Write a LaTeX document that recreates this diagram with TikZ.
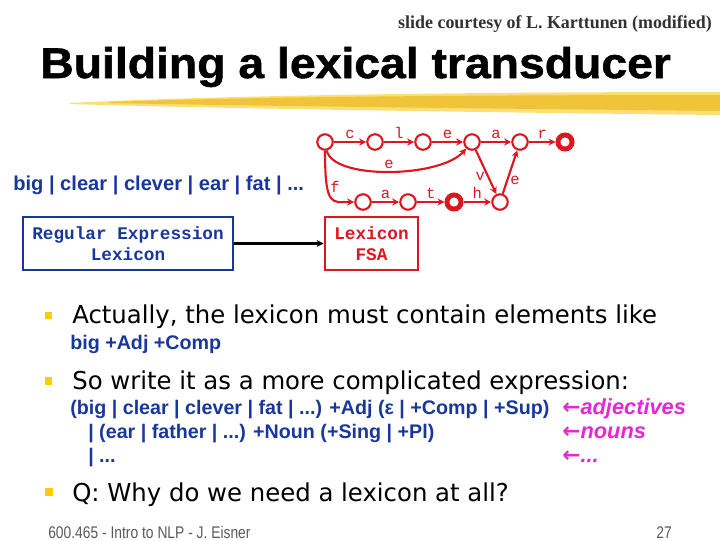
\documentclass[tikz,border=0pt]{standalone}
\usepackage{fontspec}
\setmainfont{Liberation Sans}
\newfontfamily\monofont{Liberation Mono}
\newfontfamily\creditfont[FakeStretch=0.98]{Liberation Serif}
\newfontfamily\titlefont[FakeStretch=1.08,FakeBold=1.2]{Liberation Sans}
\newfontfamily\bulletfont[FakeStretch=0.99]{DejaVu Sans}
\newfontfamily\footfont[FakeStretch=0.82]{Liberation Sans}
\newfontfamily\arrowfont{DejaVu Sans}
\usetikzlibrary{arrows.meta}

\definecolor{fsared}{RGB}{222,22,32}
\definecolor{lexblue}{RGB}{25,55,155}
\definecolor{notepink}{RGB}{230,40,210}
\definecolor{bulletgold}{RGB}{255,204,0}
\definecolor{brushlight}{RGB}{250,222,120}
\definecolor{brushgold}{RGB}{238,190,40}
\definecolor{creditgray}{RGB}{50,50,50}
\definecolor{footgray}{RGB}{90,90,90}

\tikzset{
  fsastate/.style={circle, draw=fsared, line width=1.5pt, minimum size=11pt,
    inner sep=0pt, fill=white},
  fsafinal/.style={fsastate, line width=3.5pt, minimum size=10pt},
  fsaedge/.style={->, draw=fsared, line width=1.5pt},
  fsalabel/.style={font=\monofont\fontsize{11}{11}\selectfont, text=fsared,
    inner sep=1.5pt},
  boxtext/.style={draw, line width=2pt, align=center, inner sep=0pt,
    font=\monofont\bfseries\fontsize{12.6}{15}\selectfont},
  bullettext/.style={anchor=base west, inner sep=0pt,
    font=\bulletfont\fontsize{17.5}{20}\selectfont},
  codetext/.style={anchor=base west, inner sep=0pt, text=lexblue,
    font=\bfseries\fontsize{14}{16}\selectfont},
  notetext/.style={anchor=base west, inner sep=0pt, text=notepink,
    font=\bfseries\itshape\fontsize{15.5}{17}\selectfont},
  bulletmark/.style={fill=bulletgold, minimum size=5pt, inner sep=0pt}
}
\newcommand{\leftnote}{{\arrowfont\upshape\bfseries ←}}

\begin{document}
\begin{tikzpicture}[x=0.025cm, y=-0.025cm, >={Stealth[length=5pt,width=5pt]}]
  \useasboundingbox (0,0) rectangle (720,540);

  % Header and brush stroke
  \node[anchor=base east, inner sep=0pt, text=creditgray,
    font=\creditfont\bfseries\fontsize{13}{15}\selectfont]
    (credit) at (712,28) {slide courtesy of L. Karttunen (modified)};
  \fill[brushlight] (70,103) .. controls (200,96) and (450,92) .. (720,92)
    -- (720,115) .. controls (450,112) and (200,108) .. (70,104) -- cycle;
  \fill[brushgold, opacity=0.8] (110,102) .. controls (250,97) and (450,95) .. (720,95)
    -- (720,111) .. controls (450,108) and (250,106) .. (110,103) -- cycle;
  \node[anchor=base west, inner sep=0pt, font=\titlefont\bfseries\fontsize{30.5}{34}\selectfont]
    (title) at (40,78) {Building a lexical transducer};

  % Expression and the two boxes
  \node[anchor=base west, inner sep=0pt, text=lexblue,
    font=\bfseries\fontsize{14.3}{16}\selectfont]
    (words) at (13,190) {big | clear | clever | ear | fat | ...};
  \node[boxtext, draw=lexblue, text=lexblue, minimum width=5.25cm, minimum height=1.325cm]
    (regex) at (128,243.5) {Regular Expression\\Lexicon};
  \node[boxtext, draw=fsared, text=fsared, minimum width=2.325cm, minimum height=1.325cm]
    (fsabox) at (371.5,243.5) {Lexicon\\FSA};
  \draw[->, line width=1.5pt] (regex) -- (fsabox);

  % FSA states
  \node[fsastate] (q0) at (325,142) {};
  \node[fsastate] (q1) at (375,142) {};
  \node[fsastate] (q2) at (423,142) {};
  \node[fsastate] (q3) at (472,142) {};
  \node[fsastate] (q4) at (520,142) {};
  \node[fsafinal] (q5) at (565,142) {};
  \node[fsastate] (q6) at (363,202) {};
  \node[fsastate] (q7) at (408,202) {};
  \node[fsafinal] (q8) at (454,202) {};
  \node[fsastate] (q9) at (500,202) {};

  % FSA arcs
  \draw[fsaedge] (q0) -- (q1) node[midway, above, fsalabel] {c};
  \draw[fsaedge] (q1) -- (q2) node[midway, above, fsalabel] {l};
  \draw[fsaedge] (q2) -- (q3) node[midway, above, fsalabel] {e};
  \draw[fsaedge] (q3) -- (q4) node[midway, above, fsalabel] {a};
  \draw[fsaedge] (q4) -- (q5) node[midway, above, fsalabel] {r};
  \draw[fsaedge] (q0) .. controls (333,180) and (440,178) .. (q3)
    node[midway, above, fsalabel] {e};
  \draw[fsaedge] (q0) .. controls (325,208) and (332,202) .. (q6)
    node[pos=0.3, right, fsalabel] {f};
  \draw[fsaedge] (q6) -- (q7) node[midway, above, fsalabel] {a};
  \draw[fsaedge] (q7) -- (q8) node[midway, above, fsalabel] {t};
  \draw[fsaedge] (q8) -- (q9) node[midway, above, fsalabel] {h};
  \draw[fsaedge] (q3) -- (q9) node[pos=0.6, left, fsalabel] {v};
  \draw[fsaedge] (q9) -- (q4) node[pos=0.3, right, fsalabel] {e};

  % Bullets
  \node[bulletmark] (b1) at (48.5,315.5) {};
  \node[bullettext] (actually) at (72,323) {Actually, the lexicon must contain elements like};
  \node[codetext] (bigadj) at (70,349) {big +Adj +Comp};
  \node[bulletmark] (b2) at (48.5,381) {};
  \node[bullettext] (sowrite) at (72,389) {So write it as a more complicated expression:};
  \node[codetext] (line1) at (70,414) {(big | clear | clever | fat | ...) +Adj (ε | +Comp | +Sup)};
  \node[codetext] (line2) at (88,438) {| (ear | father | ...) +Noun (+Sing | +Pl)};
  \node[codetext] (line3) at (88,462) {| ...};
  \node[notetext] (note1) at (562,414) {\leftnote adjectives};
  \node[notetext] (note2) at (562,438) {\leftnote nouns};
  \node[notetext] (note3) at (562,462) {\leftnote ...};
  \node[bulletmark] (b3) at (49,492) {};
  \node[bullettext] (why) at (72,501) {Q: Why do we need a lexicon at all?};

  % Footer
  \node[anchor=base west, inner sep=0pt, text=footgray, font=\footfont\fontsize{12}{14}\selectfont]
    (course) at (48,538) {600.465 - Intro to NLP - J. Eisner};
  \node[anchor=base east, inner sep=0pt, text=footgray, font=\footfont\fontsize{12}{14}\selectfont]
    (page) at (672,538) {27};
\end{tikzpicture}
\end{document}
